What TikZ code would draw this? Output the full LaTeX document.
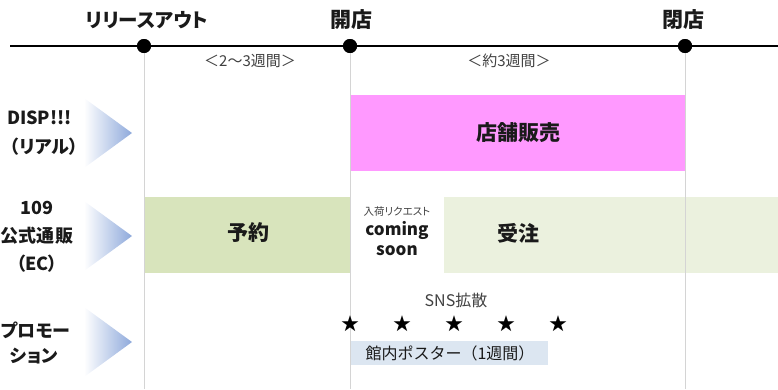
\documentclass[tikz,border=0pt]{standalone}
\usepackage{fontspec}
\setmainfont{Noto Sans CJK JP}[RawFeature=+palt]
\newfontfamily\jpfull{Noto Sans CJK JP}
\definecolor{pinkbox}{HTML}{FF99FF}
\definecolor{greenA}{HTML}{D8E4BC}
\definecolor{greenB}{HTML}{EBF1DE}
\definecolor{posterblue}{HTML}{DCE6F1}
\definecolor{chev}{HTML}{8EA9DB}
\definecolor{guide}{HTML}{D4D4D4}
\definecolor{txt}{HTML}{1A1A1A}
\definecolor{subtxt}{HTML}{404040}
\tikzset{
  big/.style={font=\fontsize{21}{25}\selectfont\bfseries, text=txt, inner sep=0pt},
  rowlab/.style={font=\fontsize{18}{28}\selectfont\bfseries, text=txt, inner sep=0pt},
  small/.style={font=\fontsize{15}{18}\selectfont, text=subtxt, inner sep=0pt},
  dot/.style={circle, fill=black, minimum size=14pt, inner sep=0pt},
  guideline/.style={draw=guide, line width=0.8pt},
  starmark/.style={font=\fontsize{18}{18}\selectfont, text=black, inner sep=0pt},
}
\begin{document}
\begin{tikzpicture}[x=1pt,y=-1pt]
\useasboundingbox (0,0) rectangle (778,389);
\begin{scope}
\clip (0,0) rectangle (778,389);
% free ends
\coordinate (g1b) at (144,389);
\coordinate (g2b) at (350,389);
\coordinate (g3b) at (685,389);
\coordinate (tlL) at (10,46);
\coordinate (tlR) at (778,46);
% bars
\fill[pinkbox] (350,95) rectangle (686,171);
\node[big] (shop) at (518,133) {店舗販売};
\fill[greenA] (144,197) rectangle (350,273);
\node[big] (yoyaku) at (248,233) {予約};
\fill[greenB] (444,197) rectangle (778,273);
\node[big] (juchu) at (518,233) {受注};
\fill[posterblue] (350,341) rectangle (548,365);
\node[font=\fontsize{16}{19}\selectfont\jpfull, text=txt, inner sep=0pt] (poster) at (450,353) {館内ポスター（1週間）};
% dots and guide lines
\node[dot] (d1) at (144,46) {};
\node[dot] (d2) at (350,46) {};
\node[dot] (d3) at (685,46) {};
\draw[guideline] (d1.south) -- (g1b);
\draw[guideline] (d2.south) -- (g2b);
\draw[guideline] (d3.south) -- (g3b);
% timeline
\draw[line width=2.6pt] (tlL) -- (d1) -- (d2) -- (d3) -- (tlR);
\node[dot] at (d1) {};
\node[dot] at (d2) {};
\node[dot] at (d3) {};
% top labels
\node[font=\fontsize{19.5}{22}\selectfont\bfseries, text=txt, inner sep=0pt] (release) at (147,20) {リリースアウト};
\node[big] (open) at (351,20) {開店};
\node[big] (close) at (683,20) {閉店};
\node[small] (w1) at (250,61) {＜2～3週間＞};
\node[small] (w2) at (509,61) {＜約3週間＞};
% coming soon
\node[font=\fontsize{10.5}{12}\selectfont, text=subtxt, inner sep=0pt] (req) at (397,211) {入荷リクエスト};
\node[font=\fontsize{17}{20}\selectfont\bfseries, text=txt, inner sep=0pt, align=center] (coming) at (397,239) {coming\\soon};
% SNS
\node[font=\fontsize{16}{18}\selectfont, text=subtxt, inner sep=0pt] (sns) at (456,300) {SNS拡散};
\foreach \i/\x in {1/350,2/402,3/454,4/506,5/558}{
  \node[starmark] (s\i) at (\x,324) {★};
}
% row labels
\node[rowlab, anchor=east] (r1a) at (72,118) {DISP!!!};
\node[rowlab, anchor=west] (r1b) at (10,147) {（リアル）};
\node[rowlab, align=center] (r2) at (37,237) {109\\公式通販\\（EC）};
\node[rowlab, anchor=west] (r3a) at (1,330) {プロモー};
\node[rowlab] (r3b) at (34,356) {ション};
% chevrons
\foreach \i/\yc in {1/133,2/236,3/342}{
  \shade[left color=white, right color=chev, draw=none]
    (84,\yc-35) -- (132,\yc) -- (84,\yc+35) -- cycle;
}
\end{scope}
\end{tikzpicture}
\end{document}
